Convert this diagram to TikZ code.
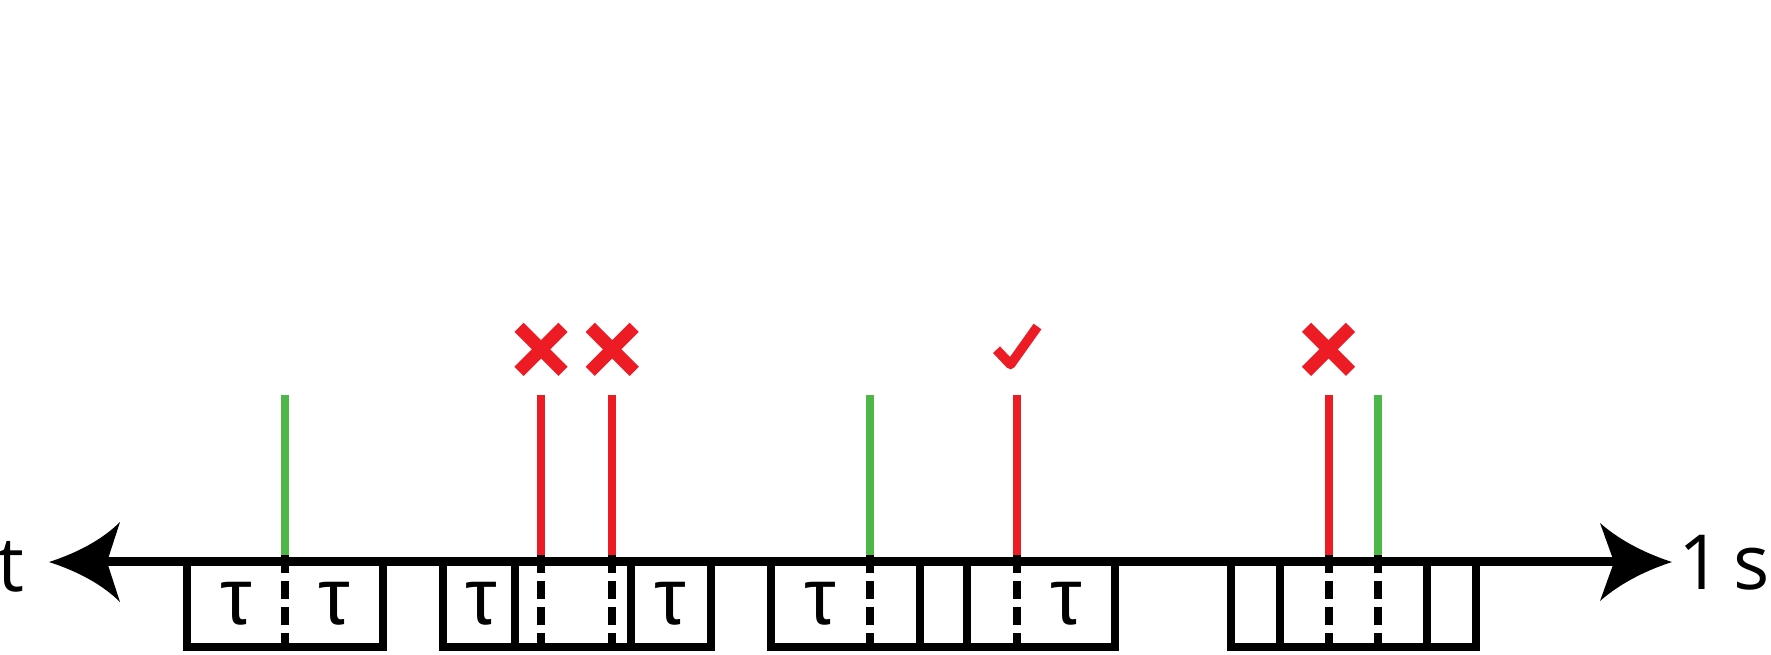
\documentclass[tikz,border=0pt]{standalone}
\usepackage{fontspec}
\setmainfont{Open Sans}
\newfontfamily\taufont{Liberation Sans}
\usetikzlibrary{calc}
\definecolor{evred}{RGB}{237,28,36}
\definecolor{evgreen}{RGB}{77,184,72}
\begin{document}
\begin{tikzpicture}[x=0.5pt,y=-0.5pt,
  boxline/.style={line width=4pt,black},
  evg/.style={line width=4pt,evgreen},
  evr/.style={line width=4pt,evred},
  dashl/.style={line width=4pt,black,dash pattern=on 9pt off 4pt},
  xmark/.style={line width=6.5pt,evred,line cap=butt},
  okmark/.style={line width=4.8pt,evred,line cap=butt,line join=round},
  lbl/.style={inner sep=0pt,font=\fontsize{38}{40}\selectfont},
  tau/.style={inner sep=0pt,anchor=base,font=\taufont\fontsize{40}{42}\selectfont}]
\useasboundingbox (0,0) rectangle (1771,654);
% axis
\coordinate (axL) at (107,561.5);
\coordinate (axR) at (1614,561.5);
\draw[line width=4.2pt] (axL) -- (axR);
\fill (49,562) .. controls (80,552) and (104,538) .. (120,522) -- (107,562) -- (120,602) .. controls (104,586) and (80,572) .. (49,562) -- cycle;
\fill (1672,562) .. controls (1641,552) and (1617,538) .. (1600,523) -- (1614,562) -- (1600,601) .. controls (1617,586) and (1641,572) .. (1672,562) -- cycle;
\node[lbl,anchor=base west] (tlab) at (-3,591) {t};
\node[lbl,anchor=base west] (onelab) at (1678,589) {1};
\node[lbl,anchor=base east] (slab) at (1770,589) {s};
% event lines
\foreach \n/\x/\s in {g1/285/evg, r1/541/evr, r2/612/evr, g2/869.5/evg, r3/1016.5/evr, r4/1328.5/evr, g3/1377.5/evg}{
  \coordinate (\n top) at (\x,395);
  \coordinate (\n mid) at (\x,556);
  \coordinate (\n bot) at (\x,651);
  \draw[\s] (\n top) -- (\n mid);
  \draw[dashl] (\x,555) -- (\n bot);
}
% group 1
\draw[boxline] (187,561.5) rectangle (383,647);
\node[tau] (t1) at (236,624) {τ};
\node[tau] (t2) at (334,624) {τ};
% group 2
\draw[boxline] (443,561.5) rectangle (711,647);
\foreach \x in {514.5,630.5}{\draw[boxline] (\x,561.5) -- (\x,647);}
\node[tau] (t3) at (481,624) {τ};
\node[tau] (t4) at (670.5,624) {τ};
% group 3
\draw[boxline] (771,561.5) rectangle (1115,647);
\foreach \x in {919.5,967}{\draw[boxline] (\x,561.5) -- (\x,647);}
\node[tau] (t5) at (820,624) {τ};
\node[tau] (t6) at (1066,624) {τ};
% group 4
\draw[boxline] (1231,561.5) rectangle (1476,647);
\foreach \x in {1280,1427}{\draw[boxline] (\x,561.5) -- (\x,647);}
% marks
\foreach \n/\x in {x1/541, x2/612.2, x3/1328.5}{
  \coordinate (\n) at (\x,349.3);
  \draw[xmark] ($(\n)+(-22,-22)$) -- ($(\n)+(22,22)$);
  \draw[xmark] ($(\n)+(22,-22)$) -- ($(\n)+(-22,22)$);
}
\coordinate (ck) at (1010.5,364.5);
\draw[okmark] (996.5,349.7) -- (ck) -- (1037.5,326.5);
\end{tikzpicture}
\end{document}
